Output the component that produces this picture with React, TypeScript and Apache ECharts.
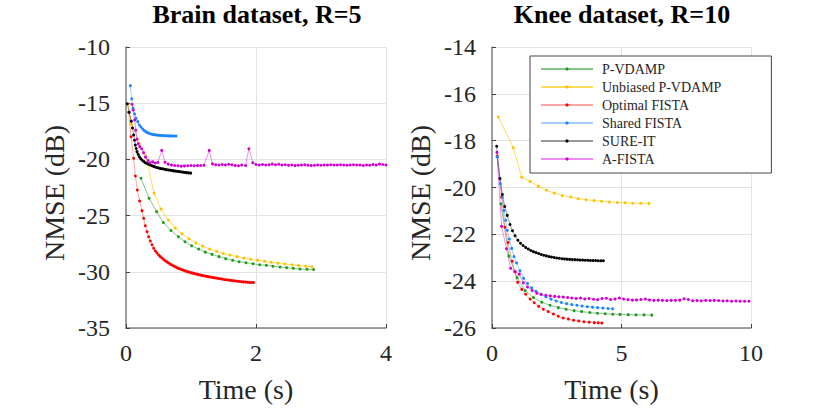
import React, { useEffect, useRef } from "react";
import * as echarts from "echarts";

const seriesNames = ["P-VDAMP", "Unbiased P-VDAMP", "Optimal FISTA", "Shared FISTA", "SURE-IT", "A-FISTA"];

// Brain dataset, R=5 : [time (s), NMSE (dB)]
const brainGreen = [[0.231,-21.68],[0.354,-23.45],[0.472,-24.65],[0.574,-25.62],[0.692,-26.32],[0.805,-26.88],[0.908,-27.32],[1.01,-27.69],[1.118,-27.98],[1.22,-28.25],[1.323,-28.45],[1.43,-28.65],[1.533,-28.83],[1.64,-28.98],[1.74,-29.1],[1.846,-29.19],[1.954,-29.28],[2.056,-29.37],[2.159,-29.42],[2.26,-29.51],[2.37,-29.57],[2.47,-29.63],[2.574,-29.69],[2.677,-29.75],[2.785,-29.78],[2.887,-29.8]];
const brainYellow = [[0.03,-15.1],[0.082,-16.88],[0.308,-19.7],[0.431,-23.0],[0.538,-24.42],[0.651,-25.39],[0.759,-26.1],[0.862,-26.62],[0.97,-27.06],[1.077,-27.44],[1.18,-27.72],[1.287,-27.97],[1.395,-28.18],[1.497,-28.37],[1.6,-28.51],[1.708,-28.65],[1.815,-28.77],[1.918,-28.89],[2.026,-28.98],[2.133,-29.07],[2.236,-29.15],[2.338,-29.23],[2.446,-29.3],[2.554,-29.38],[2.656,-29.45],[2.764,-29.51],[2.862,-29.57]];
const brainRed = [[0.041,-15.8],[0.077,-17.98],[0.118,-19.9],[0.144,-21.48],[0.174,-22.72],[0.21,-23.7],[0.246,-24.56],[0.272,-25.24],[0.297,-25.9],[0.323,-26.43],[0.349,-26.88],[0.374,-27.26],[0.4,-27.6],[0.426,-27.9],[0.451,-28.15],[0.477,-28.33],[0.503,-28.5],[0.528,-28.65],[0.554,-28.78],[0.58,-28.9],[0.605,-29.02],[0.63,-29.12],[0.656,-29.22],[0.682,-29.32],[0.708,-29.4],[0.733,-29.48],[0.759,-29.56],[0.785,-29.63],[0.81,-29.7],[0.836,-29.76],[0.862,-29.82],[0.887,-29.87],[0.913,-29.92],[0.938,-29.97],[0.964,-30.02],[0.99,-30.06],[1.015,-30.1],[1.04,-30.14],[1.066,-30.18],[1.092,-30.22],[1.117,-30.25],[1.143,-30.29],[1.168,-30.32],[1.194,-30.35],[1.22,-30.38],[1.245,-30.41],[1.27,-30.44],[1.3,-30.47],[1.33,-30.5],[1.36,-30.53],[1.39,-30.56],[1.42,-30.59],[1.45,-30.62],[1.48,-30.65],[1.51,-30.68],[1.54,-30.71],[1.57,-30.73],[1.6,-30.76],[1.63,-30.78],[1.66,-30.8],[1.69,-30.82],[1.72,-30.84],[1.75,-30.86],[1.78,-30.88],[1.81,-30.9],[1.84,-30.91],[1.87,-30.93],[1.9,-30.94],[1.93,-30.95],[1.96,-30.96]];
const brainBlue = [[0.066,-13.44],[0.088,-14.6],[0.108,-15.46],[0.133,-15.96],[0.154,-16.35],[0.18,-16.64],[0.205,-16.94],[0.23,-17.12],[0.256,-17.3],[0.282,-17.44],[0.308,-17.55],[0.333,-17.62],[0.359,-17.69],[0.385,-17.74],[0.41,-17.78],[0.436,-17.8],[0.462,-17.83],[0.487,-17.84],[0.513,-17.86],[0.538,-17.87],[0.564,-17.88],[0.59,-17.89],[0.615,-17.9],[0.641,-17.9],[0.667,-17.91],[0.692,-17.91],[0.718,-17.92],[0.744,-17.92],[0.77,-17.92]];
const brainBlack = [[0.02,-15.05],[0.05,-15.8],[0.082,-16.6],[0.1,-17.2],[0.118,-17.83],[0.131,-18.3],[0.144,-18.72],[0.157,-19.03],[0.169,-19.31],[0.187,-19.55],[0.205,-19.76],[0.225,-19.92],[0.246,-20.05],[0.271,-20.18],[0.297,-20.29],[0.323,-20.37],[0.349,-20.44],[0.374,-20.5],[0.4,-20.56],[0.426,-20.62],[0.451,-20.68],[0.477,-20.73],[0.503,-20.77],[0.528,-20.8],[0.554,-20.83],[0.58,-20.86],[0.605,-20.89],[0.63,-20.92],[0.656,-20.94],[0.682,-20.97],[0.708,-20.99],[0.733,-21.02],[0.759,-21.04],[0.785,-21.06],[0.81,-21.08],[0.836,-21.1],[0.862,-21.12],[0.887,-21.14],[0.913,-21.16],[0.938,-21.18],[0.964,-21.2],[0.995,-21.22]];
const brainMagenta = [[0.092,-15.1],[0.11,-15.6],[0.133,-16.5],[0.15,-17.4],[0.169,-18.2],[0.19,-18.6],[0.21,-18.85],[0.24,-19.05],[0.27,-19.4],[0.3,-19.8],[0.34,-20.1],[0.37,-20.3],[0.41,-20.22],[0.45,-20.32],[0.49,-20.28],[0.55,-19.2],[0.6,-20.25],[0.65,-20.42],[0.7,-20.5],[0.75,-20.55],[0.8,-20.56],[0.85,-20.6],[0.9,-20.58],[0.95,-20.56],[1.0,-20.55],[1.05,-20.57],[1.1,-20.55],[1.15,-20.54],[1.2,-20.53],[1.28,-19.2],[1.33,-20.4],[1.38,-20.47],[1.43,-20.5],[1.48,-20.45],[1.53,-20.5],[1.58,-20.43],[1.63,-20.48],[1.68,-20.55],[1.73,-20.56],[1.78,-20.5],[1.84,-20.55],[1.89,-19.05],[1.95,-20.3],[2.0,-20.45],[2.05,-20.5],[2.1,-20.46],[2.15,-20.5],[2.2,-20.47],[2.25,-20.42],[2.3,-20.48],[2.35,-20.44],[2.4,-20.5],[2.45,-20.47],[2.5,-20.52],[2.55,-20.5],[2.6,-20.55],[2.65,-20.52],[2.7,-20.5],[2.75,-20.47],[2.8,-20.52],[2.85,-20.55],[2.9,-20.53],[2.95,-20.5],[3.0,-20.52],[3.05,-20.5],[3.1,-20.5],[3.15,-20.48],[3.2,-20.5],[3.25,-20.5],[3.3,-20.48],[3.35,-20.5],[3.4,-20.52],[3.45,-20.5],[3.5,-20.47],[3.55,-20.5],[3.6,-20.5],[3.65,-20.55],[3.7,-20.5],[3.75,-20.52],[3.8,-20.45],[3.85,-20.5],[3.9,-20.42],[3.95,-20.45],[4.0,-20.5]];

// Knee dataset, R=10 : [time (s), NMSE (dB)]
const kneeGreen = [[0.345,-20.7],[0.656,-22.93],[0.97,-23.85],[1.28,-24.4],[1.6,-24.7],[1.92,-24.9],[2.24,-25.03],[2.56,-25.13],[2.86,-25.2],[3.17,-25.26],[3.46,-25.3],[3.78,-25.34],[4.07,-25.37],[4.37,-25.39],[4.66,-25.41],[4.94,-25.42],[5.26,-25.43],[5.56,-25.44],[5.87,-25.44],[6.17,-25.45]];
const kneeYellow = [[0.243,-16.99],[0.822,-18.3],[1.146,-19.56],[1.467,-19.74],[1.788,-19.95],[2.11,-20.12],[2.405,-20.24],[2.714,-20.34],[3.04,-20.41],[3.33,-20.48],[3.63,-20.52],[3.94,-20.56],[4.23,-20.59],[4.53,-20.62],[4.84,-20.64],[5.14,-20.65],[5.43,-20.67],[5.74,-20.67],[6.06,-20.68]];
const kneeRed = [[0.2,-18.67],[0.37,-20.41],[0.5,-21.7],[0.62,-22.35],[0.78,-23.15],[0.88,-23.6],[0.99,-24.05],[1.15,-24.35],[1.3,-24.56],[1.47,-24.76],[1.63,-24.92],[1.8,-25.07],[1.98,-25.2],[2.17,-25.3],[2.37,-25.4],[2.56,-25.5],[2.75,-25.57],[2.95,-25.62],[3.15,-25.67],[3.35,-25.7],[3.55,-25.73],[3.75,-25.75],[3.95,-25.77],[4.1,-25.78],[4.24,-25.79]];
const kneeBlue = [[0.2,-18.7],[0.32,-19.84],[0.4,-20.41],[0.46,-20.98],[0.53,-21.4],[0.59,-21.83],[0.67,-22.2],[0.76,-22.6],[0.85,-22.95],[0.95,-23.22],[1.08,-23.56],[1.22,-23.88],[1.37,-24.1],[1.53,-24.28],[1.7,-24.43],[1.9,-24.56],[2.08,-24.67],[2.28,-24.77],[2.48,-24.85],[2.68,-24.91],[2.88,-24.96],[3.08,-25.0],[3.28,-25.03],[3.48,-25.06],[3.68,-25.09],[3.88,-25.11],[4.08,-25.13],[4.28,-25.15],[4.48,-25.17],[4.66,-25.18]];
const kneeBlack = [[0.18,-18.24],[0.31,-19.62],[0.4,-20.3],[0.49,-20.81],[0.59,-21.19],[0.695,-21.58],[0.79,-21.85],[0.89,-22.06],[1.0,-22.25],[1.1,-22.38],[1.2,-22.48],[1.3,-22.56],[1.4,-22.63],[1.5,-22.69],[1.6,-22.74],[1.7,-22.78],[1.8,-22.82],[1.9,-22.86],[2.0,-22.89],[2.1,-22.92],[2.2,-22.95],[2.3,-22.97],[2.4,-22.99],[2.5,-23.01],[2.6,-23.02],[2.7,-23.04],[2.8,-23.05],[2.9,-23.06],[3.0,-23.07],[3.1,-23.08],[3.2,-23.08],[3.3,-23.09],[3.4,-23.1],[3.5,-23.1],[3.6,-23.11],[3.7,-23.11],[3.8,-23.12],[3.9,-23.12],[4.0,-23.12],[4.1,-23.13],[4.2,-23.13],[4.3,-23.13]];
const kneeMagenta = [[0.19,-18.5],[0.37,-21.66],[0.56,-22.62],[0.72,-23.45],[0.9,-23.6],[1.05,-23.7],[1.21,-24.07],[1.37,-24.25],[1.55,-24.4],[1.73,-24.52],[1.9,-24.57],[2.08,-24.6],[2.25,-24.63],[2.42,-24.65],[2.58,-24.67],[2.75,-24.68],[2.92,-24.7],[3.08,-24.72],[3.25,-24.74],[3.42,-24.72],[3.58,-24.76],[3.75,-24.74],[3.92,-24.77],[4.08,-24.79],[4.25,-24.74],[4.42,-24.73],[4.58,-24.78],[4.75,-24.76],[4.92,-24.72],[5.08,-24.76],[5.25,-24.79],[5.42,-24.81],[5.58,-24.8],[5.75,-24.78],[5.92,-24.76],[6.08,-24.8],[6.25,-24.82],[6.42,-24.81],[6.58,-24.82],[6.75,-24.83],[6.92,-24.82],[7.08,-24.82],[7.25,-24.81],[7.42,-24.75],[7.58,-24.78],[7.75,-24.84],[7.92,-24.83],[8.08,-24.84],[8.25,-24.82],[8.42,-24.83],[8.58,-24.82],[8.75,-24.83],[8.92,-24.85],[9.08,-24.84],[9.25,-24.86],[9.42,-24.85],[9.58,-24.86],[9.75,-24.86],[9.92,-24.86]];

const brainSeries = [brainGreen, brainYellow, brainRed, brainBlue, brainBlack, brainMagenta];
const kneeSeries = [kneeGreen, kneeYellow, kneeRed, kneeBlue, kneeBlack, kneeMagenta];

const chartTitles = ["Brain dataset, R=5", "Knee dataset, R=10"];
const xAxisName = "Time (s)";
const yAxisName = "NMSE (dB)";

const markerColors = ["#1f9a1f", "#ffc000", "#ff0000", "#1a85ff", "#000000", "#d000d0"];
const lineColors = ["rgba(31,154,31,0.55)", "rgba(255,200,0,0.65)", "rgba(255,0,0,0.35)", "rgba(26,133,255,0.4)", "rgba(0,0,0,0.4)", "rgba(220,0,220,0.45)"];

const FONT = '"Liberation Serif", "Times New Roman", serif';
const TXT = "#262626";

function xAxisOf(gridIndex: number, max: number, interval: number) {
  return {
    type: "value", gridIndex, min: 0, max, interval,
    name: xAxisName, nameLocation: "middle", nameGap: 47,
    nameTextStyle: { fontFamily: FONT, fontSize: 28, color: TXT, padding: [0, 20, 0, 0] },
    axisLine: { show: true, onZero: false, lineStyle: { color: "#808080", width: 1.5 } },
    axisTick: { show: true, inside: true, length: 4, lineStyle: { color: "#404040" } },
    axisLabel: { fontFamily: FONT, fontSize: 24, color: TXT, margin: 13 },
    splitLine: { show: true, lineStyle: { color: "#e3e3e3", width: 1 } },
  };
}
function yAxisOf(gridIndex: number, min: number, max: number, interval: number) {
  return {
    type: "value", gridIndex, min, max, interval,
    axisLine: { show: true, onZero: false, lineStyle: { color: "#808080", width: 1.5 } },
    axisTick: { show: true, inside: true, length: 4, lineStyle: { color: "#404040" } },
    axisLabel: { fontFamily: FONT, fontSize: 24, color: TXT, margin: 16 },
    splitLine: { show: true, lineStyle: { color: "#e3e3e3", width: 1 } },
  };
}

function makeSeries(sets: number[][][], axisIndex: number) {
  return sets.map((data, i) => ({
    type: "line",
    name: seriesNames[i],
    xAxisIndex: axisIndex,
    yAxisIndex: axisIndex,
    data,
    symbol: "circle",
    symbolSize: 3,
    showSymbol: true,
    showAllSymbol: true,
    lineStyle: { color: lineColors[i], width: 1 },
    itemStyle: { color: markerColors[i] },
    emphasis: { disabled: true },
  }));
}

function titleText(text: string, x: number) {
  return { type: "text", x, y: 14, style: { text, font: `bold 26px ${FONT}`, fill: "#000", textAlign: "center", textVerticalAlign: "middle", align: "center", verticalAlign: "middle" } };
}
function yNameText(x: number) {
  return { type: "text", x, y: 193, rotation: Math.PI / 2, style: { text: yAxisName, font: `28px ${FONT}`, fill: TXT, textAlign: "center", textVerticalAlign: "middle", align: "center", verticalAlign: "middle" } };
}

export default function App() {
  const ref = useRef<HTMLDivElement>(null);
  useEffect(() => {
    if (!ref.current) return;
    const chart = echarts.init(ref.current, undefined, { renderer: "svg" });
    chart.setOption({
      animation: false,
      backgroundColor: "#ffffff",
      grid: [
        { left: 126, top: 47, width: 260, height: 281 },
        { left: 492, top: 47, width: 259, height: 281 },
      ],
      xAxis: [xAxisOf(0, 4, 2), xAxisOf(1, 10, 5)],
      yAxis: [yAxisOf(0, -35, -10, 5), yAxisOf(1, -26, -14, 2)],
      legend: {
        orient: "vertical",
        left: 530, top: 56,
        padding: [6, 50, 7, 10],
        itemWidth: 52, itemHeight: 4, itemGap: 4,
        backgroundColor: "#ffffff",
        borderColor: "#444444", borderWidth: 1, borderRadius: 0,
        textStyle: { fontFamily: FONT, fontSize: 14, color: TXT, lineHeight: 14, padding: [0, 0, 0, 4] },
        data: seriesNames,
      },
      graphic: [
        titleText(chartTitles[0], 257),
        titleText(chartTitles[1], 622),
        yNameText(54),
        yNameText(420),
      ],
      series: [...makeSeries(brainSeries, 0), ...makeSeries(kneeSeries, 1)],
    });
    return () => chart.dispose();
  }, []);
  return <div ref={ref} style={{ position: "fixed", left: 0, top: 0, width: 830, height: 408 }} />;
}
